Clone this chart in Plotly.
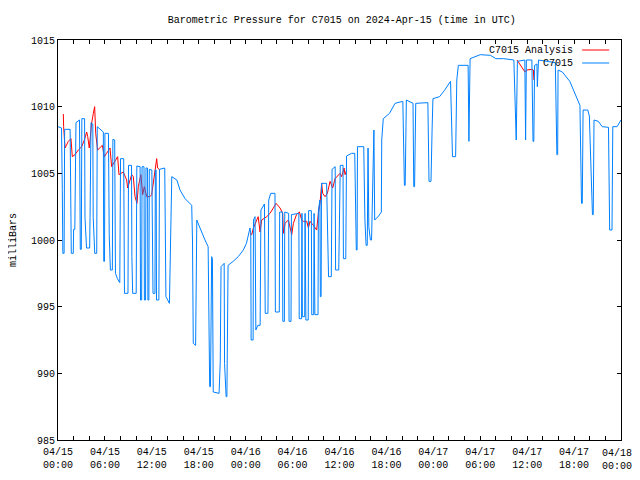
import plotly.graph_objects as go

# C7015 observed pressure: (hours since 2024-04-15 00:00 UTC, mbar)
c7015 = [
    (0.00, 1008.5), (0.45, 1008.4), (0.55, 1003.8), (0.62, 999.0), (0.78, 999.0), (0.85, 1008.3),
    (1.55, 1008.3), (1.60, 1003.8), (1.70, 999.0), (1.95, 999.0), (2.00, 1000.8), (2.15, 1000.8),
    (2.20, 1007.0), (2.30, 1008.8), (2.75, 1009.0), (2.85, 999.3), (2.98, 999.3), (3.05, 1009.1),
    (3.40, 1009.1), (3.45, 1001.7), (3.65, 999.4), (4.05, 999.4), (4.10, 1001.7), (4.22, 1008.8),
    (4.45, 1008.7), (4.50, 1001.7), (4.70, 999.0), (4.95, 999.0), (5.02, 1008.5), (5.80, 1008.1),
    (5.85, 998.4), (5.95, 998.4), (6.00, 1008.0), (6.45, 1008.0), (6.55, 1000.4), (6.70, 997.75),
    (6.95, 997.75), (7.02, 1007.55), (7.25, 1007.5), (7.35, 997.5), (7.60, 997.1), (7.90, 996.8),
    (8.00, 1006.1), (8.40, 1006.1), (8.50, 996.0), (8.95, 996.0), (9.02, 1005.6), (9.40, 1005.6),
    (9.45, 998.75), (9.55, 996.0), (10.00, 996.0), (10.08, 1005.55), (10.50, 1005.5), (10.55, 995.5),
    (10.70, 995.5), (10.75, 1005.5), (11.00, 1005.5), (11.05, 995.5), (11.20, 995.5), (11.25, 1005.4),
    (11.45, 1005.4), (11.50, 995.5), (11.62, 995.5), (11.68, 1005.3), (12.00, 1005.25), (12.05, 1001.0),
    (12.15, 996.0), (12.40, 996.0), (12.45, 1005.25), (12.55, 1005.25), (12.60, 995.5), (12.90, 995.5),
    (12.98, 1005.3), (13.65, 1005.4), (13.70, 1003.0), (13.80, 995.75), (14.25, 995.25),
    (14.30, 997.5), (14.40, 1002.3), (14.55, 1004.75), (15.20, 1004.5), (15.60, 1003.75), (16.25, 1003.1),
    (16.90, 1002.75), (17.10, 1002.6), (17.20, 1000.0), (17.30, 992.25), (17.60, 992.1), (17.65, 994.75),
    (17.75, 1001.5), (17.95, 1001.2), (18.40, 1000.5), (18.80, 1000.0), (19.20, 999.5), (19.25, 996.5),
    (19.40, 989.0), (19.50, 989.0), (19.55, 992.0), (19.65, 998.75), (19.75, 998.6), (19.85, 988.6),
    (20.60, 988.5), (20.75, 990.9), (20.85, 998.0), (21.25, 998.25), (21.30, 990.75), (21.50, 988.25),
    (21.60, 988.25), (21.75, 998.1), (22.40, 998.4), (23.05, 998.75), (23.70, 999.25), (24.10, 999.75),
    (24.55, 1000.9), (24.65, 1000.5), (24.70, 992.5), (24.95, 992.5), (25.00, 1001.5), (25.20, 1001.75),
    (25.30, 993.25), (25.55, 993.6), (25.85, 993.6), (25.95, 1002.25), (26.40, 1002.7), (26.50, 994.5),
    (26.85, 994.5), (26.95, 1003.0), (27.20, 1003.5), (27.75, 1003.5), (27.80, 994.6), (28.30, 994.6),
    (28.35, 1002.1), (28.70, 1002.1), (28.75, 993.9), (28.95, 993.9), (29.00, 1002.1), (29.50, 1002.0),
    (29.55, 993.9), (29.80, 993.9), (29.85, 1001.9), (30.80, 1002.0), (30.85, 994.1), (31.15, 994.1),
    (31.20, 1002.0), (31.25, 994.25), (31.55, 994.25), (31.60, 1002.0), (31.70, 994.0), (32.00, 994.0),
    (32.05, 1002.2), (32.40, 1002.2), (32.45, 994.4), (32.70, 994.4), (32.75, 1002.0), (32.85, 994.4),
    (33.25, 994.4), (33.30, 1002.25), (33.50, 1003.0), (33.55, 995.75), (33.65, 995.75), (33.70, 1004.25),
    (34.35, 1004.25), (34.60, 997.25), (34.95, 997.25), (35.05, 1005.3), (35.45, 1005.5), (35.50, 997.75),
    (35.90, 997.75), (36.10, 1005.6), (36.45, 1005.6), (36.50, 998.6), (36.80, 998.6), (36.90, 1006.3),
    (37.55, 1006.5), (37.95, 1006.5), (38.15, 999.25), (38.25, 999.25), (38.30, 1007.0), (39.10, 1007.0),
    (39.25, 1001.5), (39.40, 999.6), (39.55, 999.6), (39.65, 1006.9), (39.75, 1001.0), (39.95, 1000.0),
    (40.10, 1000.0), (40.30, 1005.0), (40.40, 1008.25), (40.50, 1001.5), (41.00, 1001.8), (41.35, 1002.1),
    (41.40, 1007.5), (41.60, 1009.1), (42.40, 1009.5), (43.10, 1010.25), (44.10, 1010.4), (44.30, 1004.1),
    (44.40, 1004.1), (44.55, 1010.5), (45.40, 1010.25), (45.50, 1004.0), (45.60, 1004.0), (45.75, 1010.25),
    (47.30, 1010.3), (47.45, 1004.4), (47.70, 1004.4), (47.85, 1008.5), (47.95, 1010.6), (48.80, 1010.75),
    (49.40, 1011.2), (50.20, 1011.9), (50.45, 1006.25), (50.85, 1006.25), (51.00, 1012.0), (51.20, 1013.1),
    (52.45, 1013.1), (52.55, 1007.4), (52.70, 1013.6), (54.00, 1013.9), (55.30, 1013.85), (56.00, 1013.6),
    (57.00, 1013.6), (58.30, 1013.5), (58.50, 1009.0), (58.60, 1007.5), (58.75, 1013.4), (59.70, 1013.5),
    (59.80, 1007.5), (59.85, 1010.4), (59.90, 1013.5), (60.60, 1013.5), (60.75, 1007.4), (60.85, 1007.4),
    (60.95, 1013.1), (61.25, 1013.2), (61.30, 1011.5), (61.45, 1013.5), (63.60, 1013.3), (63.80, 1006.4),
    (63.90, 1006.4), (63.95, 1012.75), (64.50, 1012.6), (65.45, 1011.9), (66.10, 1011.0), (66.75, 1010.1),
    (66.95, 1002.75), (67.05, 1002.75), (67.15, 1009.75), (67.75, 1009.75), (67.95, 1009.3), (68.35, 1001.9),
    (68.45, 1001.9), (68.55, 1009.0), (69.10, 1008.9), (69.60, 1008.5), (70.40, 1008.45), (70.55, 1000.75),
    (70.85, 1000.75), (70.95, 1008.5), (71.50, 1008.5), (71.90, 1009.0), (72.00, 1009.0),
]

# C7015 Analysis: three segments (None = gap)
c7015_analysis = [
    (0.68, 1009.45), (0.72, 1008.5), (0.90, 1006.9), (1.32, 1007.4), (1.66, 1007.6), (1.83, 1006.25),
    (2.17, 1006.4), (2.60, 1006.75), (3.03, 1007.0), (3.37, 1007.5), (3.67, 1008.1), (3.80, 1007.75),
    (4.00, 1006.9), (4.30, 1008.75), (4.52, 1009.5), (4.69, 1010.0), (4.82, 1008.0), (5.07, 1006.75),
    (5.67, 1007.1), (5.92, 1006.25), (6.22, 1006.5), (6.65, 1006.9), (6.86, 1005.5), (7.29, 1005.9),
    (7.63, 1006.25), (7.80, 1004.9), (8.35, 1005.1), (8.78, 1004.5), (8.91, 1003.9), (9.42, 1004.9),
    (9.63, 1004.75), (9.85, 1003.25), (10.10, 1002.75), (10.27, 1004.0), (10.60, 1004.9), (10.83, 1003.4),
    (11.04, 1004.0), (11.34, 1003.25), (11.76, 1003.25), (11.98, 1003.4), (12.19, 1004.25), (12.40, 1005.25),
    (12.62, 1006.1), (12.74, 1005.4), (13.04, 1005.25),
    (None, None),
    (24.55, 1000.5), (24.77, 1000.4), (24.99, 1000.9), (25.41, 1001.5), (25.60, 1001.75), (25.84, 1000.6),
    (26.05, 1001.5), (26.69, 1001.75), (27.12, 1002.0), (27.54, 1002.4), (27.88, 1002.75), (28.40, 1002.4),
    (28.74, 1002.0), (28.82, 1000.5), (29.04, 1001.25), (29.46, 1001.5), (29.67, 1001.0), (29.89, 1000.4),
    (30.10, 1001.25), (30.50, 1001.9), (30.87, 1002.1), (31.17, 1001.5), (31.38, 1001.4), (31.81, 1001.4),
    (32.02, 1000.9), (32.23, 1001.4), (32.66, 1001.1), (33.08, 1000.75), (33.30, 1002.0), (33.51, 1002.75),
    (33.72, 1004.25), (33.85, 1003.5), (34.15, 1003.25), (34.45, 1003.5), (34.79, 1004.4), (35.13, 1003.9),
    (35.43, 1004.6), (35.86, 1004.9), (36.07, 1005.0), (36.28, 1004.75), (36.58, 1005.4), (36.71, 1004.9),
    (36.92, 1005.25),
    (None, None),
    (58.70, 1013.5), (59.00, 1013.25), (59.51, 1012.8), (59.72, 1012.6), (59.94, 1012.75), (60.58, 1012.8),
    (60.79, 1012.75), (60.87, 1012.0),
]

tick_hours = [0, 6, 12, 18, 24, 30, 36, 42, 48, 54, 60, 66, 72]
tick_labels = ["04/15<br>00:00", "04/15<br>06:00", "04/15<br>12:00", "04/15<br>18:00",
               "04/16<br>00:00", "04/16<br>06:00", "04/16<br>12:00", "04/16<br>18:00",
               "04/17<br>00:00", "04/17<br>06:00", "04/17<br>12:00", "04/17<br>18:00",
               "04/18<br>00:00"]
y_ticks = [985, 990, 995, 1000, 1005, 1010, 1015]

BLUE = "#0080ff"
RED = "#ff0000"
FONT = "Liberation Mono"
FS = 10

# the page places the figure 8 px from the top-left corner
FIG_W, FIG_H = 624, 464

obs_h = [p[0] for p in c7015]
obs_v = [p[1] for p in c7015]
ana_h = [p[0] for p in c7015_analysis]
ana_v = [p[1] for p in c7015_analysis]

fig = go.Figure()
fig.add_trace(go.Scatter(x=ana_h, y=ana_v, mode="lines", name="C7015 Analysis",
                         line=dict(color=RED, width=1), connectgaps=False))
fig.add_trace(go.Scatter(x=obs_h, y=obs_v, mode="lines", name="C7015",
                         line=dict(color=BLUE, width=1)))

fig.update_layout(
    width=FIG_W, height=FIG_H,
    margin=dict(l=50, r=11, t=32, b=32),
    paper_bgcolor="white", plot_bgcolor="white",
    showlegend=False,
    font=dict(family=FONT, size=FS, color="black"),
    title=dict(text="Barometric Pressure for C7015 on 2024-Apr-15 (time in UTC)",
               x=0.535, xanchor="center", y=1 - 11 / FIG_H, yanchor="middle",
               font=dict(family=FONT, size=FS, color="black")),
)
# last label would spill past the page edge: draw it right-aligned to the edge instead
axis_labels = tick_labels[:-1] + [""]
fig.update_xaxes(
    range=[0, 72], tickvals=tick_hours, ticktext=axis_labels, automargin=False,
    ticklabelstandoff=2,
    ticks="inside", ticklen=4, tickcolor="black", tickwidth=1,
    minor=dict(dtick=2, tick0=0, ticks="inside", ticklen=4, tickcolor="black", showgrid=False),
    showline=True, linecolor="black", linewidth=1, mirror="ticks",
    showgrid=False, zeroline=False,
    tickfont=dict(family=FONT, size=FS, color="black"),
)
fig.add_annotation(xref="x", yref="paper", x=tick_hours[-1], y=0, text=tick_labels[-1],
                   showarrow=False, xanchor="right", yanchor="top", xshift=12, yshift=-7,
                   align="center", borderpad=0,
                   font=dict(family=FONT, size=FS, color="black"))
fig.update_yaxes(
    range=[985, 1015], tickvals=y_ticks, ticktext=[str(v) for v in y_ticks], automargin=False,
    ticks="inside", ticklen=4, tickcolor="black", tickwidth=1,
    showline=True, linecolor="black", linewidth=1, mirror="ticks",
    showgrid=False, zeroline=False,
    tickfont=dict(family=FONT, size=FS, color="black"),
    title=dict(text="milliBars", font=dict(family=FONT, size=FS, color="black"), standoff=12),
)

# gnuplot-style key: text on the left, line sample on the right
key_rows = [("C7015 Analysis", RED, 0.975), ("C7015", BLUE, 0.9425)]
for label, color, yp in key_rows:
    fig.add_annotation(xref="paper", yref="paper", x=0.918, y=yp, text=label,
                       showarrow=False, xanchor="right", yanchor="middle",
                       font=dict(family=FONT, size=FS, color="black"))
    fig.add_shape(type="line", xref="paper", yref="paper", x0=0.931, x1=0.979, y0=yp, y1=yp,
                  line=dict(color=color, width=1))

fig.write_html("out.html")
